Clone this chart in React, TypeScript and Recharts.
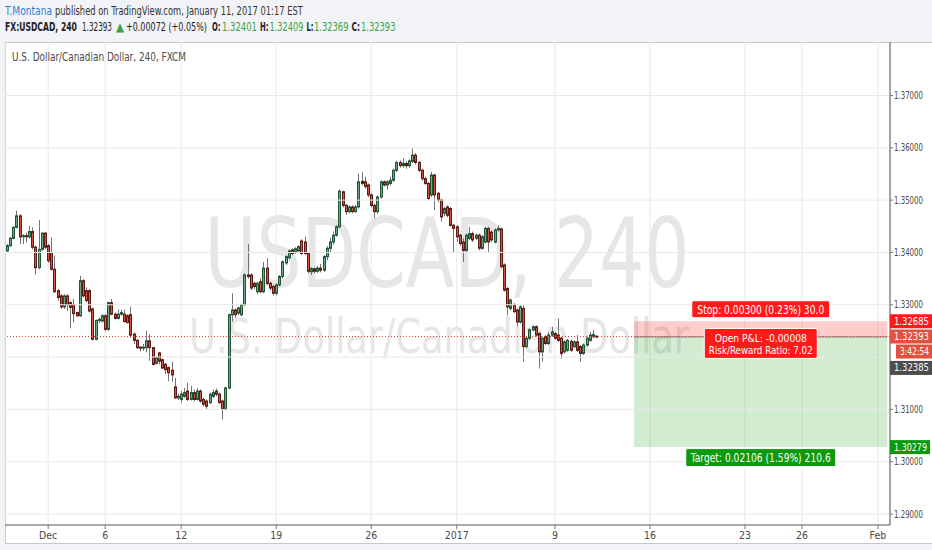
import React, { useLayoutEffect, useRef, useState } from 'react';
import {
  ComposedChart,
  Bar,
  XAxis,
  YAxis,
  CartesianGrid,
  ReferenceLine,
  ReferenceArea,
  ReferenceDot,
} from 'recharts';

// ---- candle data (USDCAD, 240 minute bars) ----
const OPEN = [
  1.3403, 1.3413, 1.3427, 1.3448, 1.347, 1.343, 1.3432, 1.343, 1.344, 1.341,
  1.3371, 1.3406, 1.3437, 1.3413, 1.34, 1.3368, 1.3327, 1.3317, 1.3296, 1.3317,
  1.3304, 1.33, 1.3285, 1.3279, 1.3346, 1.3327, 1.3327, 1.3292, 1.3234, 1.327,
  1.3269, 1.3279, 1.3253, 1.3304, 1.3282, 1.3274, 1.3282, 1.3282, 1.3279, 1.3281,
  1.3244, 1.3232, 1.3219, 1.3217, 1.3218, 1.3231, 1.3218, 1.3188, 1.3208, 1.3195,
  1.3186, 1.318, 1.3175, 1.3143, 1.3122, 1.3119, 1.3125, 1.3135, 1.3119, 1.3132,
  1.3119, 1.3135, 1.3119, 1.3116, 1.3113, 1.3125, 1.3135, 1.3129, 1.3116, 1.31,
  1.3141, 1.3281, 1.329, 1.3284, 1.3281, 1.33, 1.3357, 1.3357, 1.3341, 1.3325,
  1.3344, 1.3325, 1.337, 1.3341, 1.3335, 1.3322, 1.3338, 1.3354, 1.338, 1.339,
  1.3405, 1.34, 1.3403, 1.3422, 1.342, 1.3398, 1.3363, 1.3369, 1.3364, 1.337,
  1.3366, 1.3392, 1.3408, 1.342, 1.3433, 1.3449, 1.3516, 1.349, 1.3478, 1.3487,
  1.3478, 1.3487, 1.3536, 1.3535, 1.3529, 1.351, 1.349, 1.3478, 1.3506, 1.3535,
  1.3529, 1.3532, 1.3538, 1.3557, 1.3572, 1.3566, 1.357, 1.3566, 1.3574, 1.3586,
  1.3572, 1.3557, 1.3541, 1.3532, 1.351, 1.3548, 1.3513, 1.35, 1.3475, 1.3487,
  1.3484, 1.3452, 1.3449, 1.3433, 1.342, 1.3404, 1.3427, 1.3436, 1.3427, 1.3433,
  1.3408, 1.342, 1.3446, 1.3439, 1.342, 1.3443, 1.3445, 1.3376, 1.3331, 1.3293,
  1.33, 1.329, 1.3267, 1.3293, 1.322, 1.3236, 1.3252, 1.3258, 1.3245, 1.321,
  1.3239, 1.3226, 1.3242, 1.3245, 1.3242, 1.3236, 1.321, 1.3213, 1.323, 1.322,
  1.3229, 1.322, 1.3207, 1.3223, 1.3232, 1.3239, 1.32401,
];
const HIGH = [
  1.3416, 1.343, 1.345, 1.348, 1.3473, 1.3435, 1.3438, 1.3451, 1.3448, 1.3413,
  1.3462, 1.3438, 1.3438, 1.3416, 1.3429, 1.3394, 1.333, 1.332, 1.332, 1.332,
  1.3307, 1.3311, 1.3287, 1.3355, 1.3349, 1.3333, 1.333, 1.3295, 1.3272, 1.3276,
  1.3282, 1.3282, 1.3306, 1.3311, 1.3285, 1.3291, 1.3291, 1.3291, 1.3282, 1.3296,
  1.3247, 1.3234, 1.3221, 1.3225, 1.325, 1.3244, 1.322, 1.3201, 1.321, 1.3197,
  1.3189, 1.3182, 1.3191, 1.316, 1.313, 1.3135, 1.3141, 1.3151, 1.3145, 1.3138,
  1.314, 1.3138, 1.3122, 1.3119, 1.3132, 1.3138, 1.314, 1.3132, 1.3119, 1.3143,
  1.3283, 1.3322, 1.3293, 1.3296, 1.3302, 1.336, 1.3416, 1.336, 1.3344, 1.3344,
  1.335, 1.3382, 1.3389, 1.3344, 1.3338, 1.3341, 1.3357, 1.3385, 1.3395, 1.3406,
  1.3408, 1.341, 1.3414, 1.3425, 1.343, 1.34, 1.3372, 1.3371, 1.3374, 1.3378,
  1.3395, 1.3412, 1.3428, 1.344, 1.3452, 1.352, 1.3518, 1.3493, 1.349, 1.349,
  1.3491, 1.3551, 1.3554, 1.3545, 1.3532, 1.3513, 1.3493, 1.3509, 1.3538, 1.3538,
  1.3538, 1.3545, 1.356, 1.3575, 1.3576, 1.358, 1.3574, 1.3578, 1.3599, 1.359,
  1.3575, 1.356, 1.3545, 1.3535, 1.3554, 1.355, 1.3516, 1.3503, 1.3487, 1.349,
  1.3487, 1.3455, 1.3452, 1.3436, 1.3427, 1.3436, 1.3449, 1.344, 1.3436, 1.3436,
  1.3433, 1.3449, 1.3449, 1.3442, 1.3446, 1.3452, 1.3448, 1.3379, 1.3334, 1.3312,
  1.3303, 1.3293, 1.3299, 1.3299, 1.3239, 1.3255, 1.3261, 1.3261, 1.3248, 1.3239,
  1.3242, 1.3248, 1.3258, 1.3248, 1.3274, 1.3239, 1.3232, 1.3235, 1.3233, 1.3232,
  1.3242, 1.3223, 1.3226, 1.3239, 1.3248, 1.3252, 1.32409,
];
const LOW = [
  1.34, 1.3411, 1.3425, 1.3446, 1.3416, 1.3416, 1.3419, 1.3426, 1.3406, 1.3358,
  1.3368, 1.3403, 1.3406, 1.338, 1.3365, 1.3323, 1.3308, 1.3292, 1.3292, 1.3288,
  1.3255, 1.3266, 1.3277, 1.3277, 1.3314, 1.3304, 1.3285, 1.3232, 1.3232, 1.3265,
  1.3266, 1.325, 1.325, 1.328, 1.3272, 1.3272, 1.3279, 1.3266, 1.3264, 1.3237,
  1.3225, 1.3216, 1.3211, 1.3212, 1.3209, 1.3193, 1.3184, 1.3186, 1.3186, 1.3177,
  1.3167, 1.3154, 1.3153, 1.312, 1.3118, 1.3113, 1.3122, 1.3116, 1.3117, 1.3115,
  1.3117, 1.3113, 1.3106, 1.31, 1.311, 1.3122, 1.3125, 1.311, 1.3081, 1.3098,
  1.3138, 1.3268, 1.3275, 1.328, 1.3278, 1.3298, 1.335, 1.3328, 1.333, 1.332,
  1.3322, 1.3322, 1.3338, 1.3328, 1.3318, 1.3318, 1.3335, 1.335, 1.3376, 1.3387,
  1.3395, 1.3397, 1.34, 1.3395, 1.3395, 1.336, 1.3357, 1.336, 1.3361, 1.3362,
  1.3363, 1.3385, 1.34, 1.3415, 1.343, 1.3446, 1.3486, 1.3472, 1.3475, 1.3475,
  1.3476, 1.3484, 1.3528, 1.3522, 1.3506, 1.3486, 1.3465, 1.3474, 1.3503, 1.3526,
  1.352, 1.3528, 1.3535, 1.3554, 1.3562, 1.3562, 1.356, 1.3562, 1.3571, 1.3568,
  1.3554, 1.3537, 1.3529, 1.3499, 1.3506, 1.3481, 1.3496, 1.3459, 1.3469, 1.3467,
  1.3449, 1.3401, 1.342, 1.3413, 1.3382, 1.34, 1.3424, 1.342, 1.3424, 1.3404,
  1.3405, 1.3417, 1.3401, 1.342, 1.3417, 1.344, 1.337, 1.3325, 1.328, 1.329,
  1.3284, 1.3258, 1.3264, 1.3191, 1.3217, 1.3233, 1.3249, 1.3239, 1.3178, 1.3191,
  1.3223, 1.3223, 1.3239, 1.3233, 1.3229, 1.3197, 1.3207, 1.321, 1.321, 1.3217,
  1.321, 1.3191, 1.3204, 1.322, 1.3229, 1.3236, 1.32369,
];
const CLOSE = [
  1.3413, 1.3427, 1.3448, 1.347, 1.343, 1.3432, 1.343, 1.344, 1.341, 1.3371,
  1.3406, 1.3437, 1.341, 1.3384, 1.3368, 1.3325, 1.3314, 1.3296, 1.3317, 1.33,
  1.3295, 1.3283, 1.3279, 1.3346, 1.3317, 1.3308, 1.3288, 1.3234, 1.327, 1.3272,
  1.3279, 1.3253, 1.3304, 1.3282, 1.3274, 1.3282, 1.3285, 1.3268, 1.3266, 1.3242,
  1.3232, 1.3218, 1.3217, 1.3219, 1.3231, 1.3218, 1.3186, 1.3199, 1.3192, 1.3179,
  1.3176, 1.317, 1.3166, 1.3122, 1.3125, 1.3129, 1.3132, 1.3119, 1.3132, 1.3119,
  1.3135, 1.3116, 1.311, 1.3106, 1.3129, 1.3132, 1.3129, 1.3113, 1.31, 1.3141,
  1.3281, 1.329, 1.3281, 1.3294, 1.33, 1.3357, 1.3354, 1.3332, 1.3335, 1.3341,
  1.3325, 1.337, 1.3341, 1.3332, 1.3322, 1.3338, 1.3354, 1.3382, 1.3392, 1.3403,
  1.3398, 1.3407, 1.3411, 1.3398, 1.3398, 1.3364, 1.3369, 1.3364, 1.337, 1.3366,
  1.3392, 1.3408, 1.342, 1.3433, 1.3449, 1.3517, 1.349, 1.3478, 1.3487, 1.3478,
  1.3487, 1.3535, 1.3532, 1.3526, 1.351, 1.349, 1.3478, 1.3506, 1.3535, 1.3529,
  1.3535, 1.3538, 1.3557, 1.3572, 1.3566, 1.357, 1.3566, 1.3575, 1.3586, 1.3572,
  1.3557, 1.3541, 1.3532, 1.3503, 1.3548, 1.351, 1.35, 1.3468, 1.3484, 1.3471,
  1.3452, 1.3446, 1.343, 1.3417, 1.3404, 1.3433, 1.3436, 1.3424, 1.3433, 1.3408,
  1.343, 1.3446, 1.342, 1.3424, 1.3443, 1.3446, 1.3373, 1.3328, 1.3296, 1.3309,
  1.3287, 1.3267, 1.3296, 1.322, 1.3236, 1.3252, 1.3258, 1.3242, 1.321, 1.3236,
  1.3226, 1.3242, 1.3248, 1.3236, 1.3232, 1.3207, 1.3229, 1.3232, 1.3213, 1.3229,
  1.3213, 1.3207, 1.3223, 1.3236, 1.3242, 1.3243, 1.32393,
];

// ---- axis ticks ----
const DATE_TICK_LABELS = ['Dec', '6', '12', '19', '26', '2017', '9', '16', '23', '26', 'Feb'];
const DATE_TICK_BARS = [13, 31, 55, 85, 115, 142, 173, 203, 233, 251, 275];
const PRICE_GRID = [1.29, 1.3, 1.31, 1.32, 1.33, 1.34, 1.35, 1.36, 1.37];
const PRICE_LABELS = [1.29, 1.3, 1.31, 1.33, 1.34, 1.35, 1.36, 1.37];

// ---- position tool ----
const LAST_PRICE = 1.32393;
const ENTRY = 1.32385;
const STOP = 1.32685;
const TARGET = 1.30279;
const POS_START_BAR = 198;
const POS_END_BAR = 278;
const POS_LABEL_BAR = 238;
const COUNTDOWN = '3:42:54';
const STOP_TEXT = 'Stop: 0.00300 (0.23%) 30.0';
const PNL_TEXT = 'Open P&L: -0.00008';
const RR_TEXT = 'Risk/Reward Ratio: 7.02';
const TARGET_TEXT = 'Target: 0.02106 (1.59%) 210.6';

// ---- header texts ----
const HEADER_PARTS = [
  { t: 'FX:USDCAD, 240', x: 5, w: 72, bold: true, c: '#222' },
  { t: '1.32393', x: 82, w: 30, bold: false, c: '#222' },
  { t: '▲', x: 116, w: 8, bold: false, c: '#3aa33a' },
  { t: '+0.00072 (+0.05%)', x: 126, w: 81, bold: false, c: '#222' },
  { t: 'O:', x: 212, w: 8.5, bold: true, c: '#222' },
  { t: '1.32401', x: 222, w: 35, bold: false, c: '#3aa33a' },
  { t: 'H:', x: 260, w: 8.5, bold: true, c: '#222' },
  { t: '1.32409', x: 269.5, w: 34, bold: false, c: '#3aa33a' },
  { t: 'L:', x: 306.5, w: 7, bold: true, c: '#222' },
  { t: '1.32369', x: 314, w: 34.5, bold: false, c: '#3aa33a' },
  { t: 'C:', x: 351.5, w: 8.5, bold: true, c: '#222' },
  { t: '1.32393', x: 361, w: 34.5, bold: false, c: '#3aa33a' },
];

// axis ranges
const X_MIN = -0.63;
const X_MAX = 278.8;
const Y_MIN = 1.2879;
const Y_MAX = 1.38023;

const candles = OPEN.map((o, i) => ({ i, open: o, high: HIGH[i], low: LOW[i], close: CLOSE[i] }));

const FONT = '"Liberation Sans Narrow", "Arial Narrow", "DejaVu Sans Condensed", "Liberation Sans", sans-serif';
const UP = '#6ba583';
const UP_BORDER = '#225437';
const DOWN = '#d75442';
const DOWN_BORDER = '#5b1a13';
const WICK = '#737375';
const AXIS_TEXT = '#4a4a4a';
const GRID = '#e9e9e9';

// text squeezed horizontally (a condensed look) to a given width
const FitText = ({ x, y, width, anchor = 'start', children, ...rest }: any) => {
  const ref = useRef<any>(null);
  const [sx, setSx] = useState(1);
  useLayoutEffect(() => {
    if (ref.current && ref.current.getComputedTextLength) {
      const len = ref.current.getComputedTextLength();
      if (len > 0) {
        const s = width / len;
        if (Math.abs(s - sx) > 0.001) setSx(s);
      }
    }
  });
  return (
    <text ref={ref} x={0} y={0} textAnchor={anchor} transform={`translate(${x} ${y}) scale(${sx} 1)`} {...rest}>
      {children}
    </text>
  );
};

const Candle = (props: any) => {
  const { x, y, width, height, payload } = props;
  if (!payload || x == null || y == null) return null;
  const { open, close, high, low } = payload;
  const cx = Math.round(x + width / 2);
  const h = Math.abs(height);
  const top = height >= 0 ? y : y + height;
  const ppu = high - low > 0 ? h / (high - low) : 0;
  const yO = top + (high - open) * ppu;
  const yC = top + (high - close) * ppu;
  const up = close >= open;
  const bodyTop = Math.min(yO, yC);
  const bodyH = Math.max(1, Math.abs(yO - yC));
  return (
    <g>
      <line x1={cx + 0.5} x2={cx + 0.5} y1={top} y2={top + h} stroke={WICK} strokeWidth={1} />
      <rect
        x={cx - 0.5}
        y={bodyTop}
        width={2}
        height={bodyH}
        fill={up ? UP : DOWN}
        stroke={up ? UP_BORDER : DOWN_BORDER}
        strokeWidth={1}
      />
    </g>
  );
};

const Badge = ({ x, cy, w, bg, text }: any) => (
  <g>
    <rect x={x} y={cy - 7} width={w} height={14} fill={bg} />
    <FitText x={x + w - 3} y={cy + 3.5} width={w - 7} anchor="end" fontSize={10} fill="#fff" fontFamily={FONT}>
      {text}
    </FitText>
  </g>
);

const PriceTick = (props: any) => {
  const { x, y, payload } = props;
  const v = payload.value;
  const ax = x - 4;
  const label = Number(v).toFixed(5);
  if (v === STOP) return <Badge x={ax} cy={y} w={42} bg="#ff1a1a" text={label} />;
  if (v === LAST_PRICE)
    return (
      <g>
        <Badge x={ax} cy={y} w={42} bg="#e0513f" text={label} />
        <Badge x={ax + 6} cy={y + 15} w={36} bg="#e0513f" text={COUNTDOWN} />
      </g>
    );
  if (v === ENTRY) return <Badge x={ax} cy={y + 31} w={42} bg="#4d4d4d" text={label} />;
  if (v === TARGET) return <Badge x={ax} cy={y} w={40} bg="#0b9a0b" text={label} />;
  return (
    <FitText x={x + 29} y={y + 3.5} width={29} anchor="end" fontSize={10} fill={AXIS_TEXT} fontFamily={FONT}>
      {label}
    </FitText>
  );
};

const DateTick = (props: any) => {
  const { x, y, payload } = props;
  const idx = DATE_TICK_BARS.indexOf(payload.value);
  const label = idx >= 0 ? DATE_TICK_LABELS[idx] : '';
  return (
    <text x={x} y={y + 10} fontSize={10.5} fill={AXIS_TEXT} fontFamily={FONT} textAnchor="middle">
      {label}
    </text>
  );
};

const LabelBox = ({ cx, cy, w, h, bg, lines, fs = 12 }: any) => (
  <g>
    <rect x={cx - w / 2} y={cy - h / 2} width={w} height={h} rx={2} fill={bg} stroke="#fff" strokeWidth={1} />
    {lines.map((ln: any, k: number) => (
      <FitText key={k} x={cx} y={cy - h / 2 + ln.dy} width={ln.w} anchor="middle" fontSize={fs} fill="#fff" fontFamily={FONT}>
        {ln.t}
      </FitText>
    ))}
  </g>
);

const Background = () => (
  <svg width={932} height={550} style={{ position: 'absolute', left: 0, top: 0 }}>
    <rect x={0} y={0} width={932} height={550} fill="#f1f3f6" />
    <rect x={5.5} y={42.5} width={930} height={501} fill="#ffffff" stroke="#c8c8c8" />
    <FitText x={5} y={14.5} width={47} fontSize={12.5} fontFamily={FONT} fill="#2f7ed8">
      T.Montana
    </FitText>
    <FitText x={55} y={14.5} width={248} fontSize={12.5} fontFamily={FONT} fill="#333333">
      published on TradingView.com, January 11, 2017 01:17 EST
    </FitText>
    {HEADER_PARTS.map((p, k) => (
      <FitText
        key={k}
        x={p.x}
        y={30.5}
        width={p.w}
        fontSize={12}
        fontFamily={FONT}
        fontWeight={p.bold ? 'bold' : 'normal'}
        fill={p.c}
      >
        {p.t}
      </FitText>
    ))}
    <FitText x={447} y={287} width={485} anchor="middle" fontSize={96} fontFamily={FONT} fill="#e6e6e6">
      USDCAD, 240
    </FitText>
    <FitText x={439} y={353} width={500} anchor="middle" fontSize={48} fontFamily={FONT} fill="#e6e6e6">
      U.S. Dollar/Canadian Dollar
    </FitText>
  </svg>
);

const Foreground = () => (
  <svg width={932} height={80} style={{ position: 'absolute', left: 0, top: 0, pointerEvents: 'none' }}>
    <FitText x={12} y={61} width={174} fontSize={12} fontFamily={FONT} fill="#4a4a4a">
      U.S. Dollar/Canadian Dollar, 240, FXCM
    </FitText>
  </svg>
);

export default function App() {
  return (
    <div style={{ position: 'absolute', left: 0, top: 0, width: 932, height: 550, overflow: 'hidden' }}>
      <Background />
      <div style={{ position: 'absolute', left: 0, top: 0 }}>
        <ComposedChart width={932} height={550} data={candles} margin={{ top: 42, right: 0, bottom: 0, left: 5 }}>
          <CartesianGrid horizontal={false} stroke={GRID} />
          {PRICE_GRID.map((p) => (
            <ReferenceLine key={'g' + p} y={p} stroke={GRID} />
          ))}
          <ReferenceArea x1={POS_START_BAR} x2={POS_END_BAR} y1={ENTRY} y2={STOP} fill="#ff0000" fillOpacity={0.2} stroke="none" />
          <ReferenceArea x1={POS_START_BAR} x2={POS_END_BAR} y1={TARGET} y2={ENTRY} fill="#1f9f1f" fillOpacity={0.2} stroke="none" />
          <ReferenceLine
            segment={[
              { x: POS_START_BAR, y: ENTRY },
              { x: POS_END_BAR, y: ENTRY },
            ]}
            stroke="#7a7a7a"
          />
          <XAxis
            dataKey="i"
            type="number"
            domain={[X_MIN, X_MAX]}
            allowDataOverflow
            ticks={DATE_TICK_BARS}
            interval={0}
            height={25}
            tickSize={4}
            tickMargin={0}
            axisLine={{ stroke: '#555' }}
            tickLine={{ stroke: '#777' }}
            tick={<DateTick />}
          />
          <YAxis
            orientation="right"
            type="number"
            domain={[Y_MIN, Y_MAX]}
            allowDataOverflow
            ticks={[...PRICE_LABELS, TARGET, ENTRY, LAST_PRICE, STOP]}
            interval={0}
            width={42}
            tickSize={3}
            tickMargin={1}
            axisLine={{ stroke: '#555' }}
            tickLine={{ stroke: '#777' }}
            tick={<PriceTick />}
          />
          <ReferenceLine y={LAST_PRICE} stroke="#e0412f" strokeDasharray="1 2" />
          <Bar dataKey={(d: any) => [d.low, d.high]} shape={(p: any) => <Candle {...p} />} barSize={3} isAnimationActive={false} />
          <ReferenceDot
            x={POS_LABEL_BAR}
            y={STOP}
            r={0}
            shape={(p: any) => (
              <LabelBox cx={p.cx} cy={p.cy - 12} w={138} h={17} bg="#ff1a1a" lines={[{ t: STOP_TEXT, w: 127, dy: 13 }]} />
            )}
          />
          <ReferenceDot
            x={POS_LABEL_BAR}
            y={ENTRY}
            r={0}
            shape={(p: any) => (
              <LabelBox
                cx={p.cx}
                cy={p.cy + 6.5}
                w={113}
                h={30}
                bg="#ff1a1a"
                fs={10.5}
                lines={[
                  { t: PNL_TEXT, w: 92, dy: 13.5 },
                  { t: RR_TEXT, w: 104, dy: 26 },
                ]}
              />
            )}
          />
          <ReferenceDot
            x={POS_LABEL_BAR}
            y={TARGET}
            r={0}
            shape={(p: any) => (
              <LabelBox cx={p.cx} cy={p.cy + 10.5} w={150} h={18} bg="#0b9a0b" lines={[{ t: TARGET_TEXT, w: 140, dy: 13.5 }]} />
            )}
          />
        </ComposedChart>
      </div>
      <Foreground />
    </div>
  );
}
